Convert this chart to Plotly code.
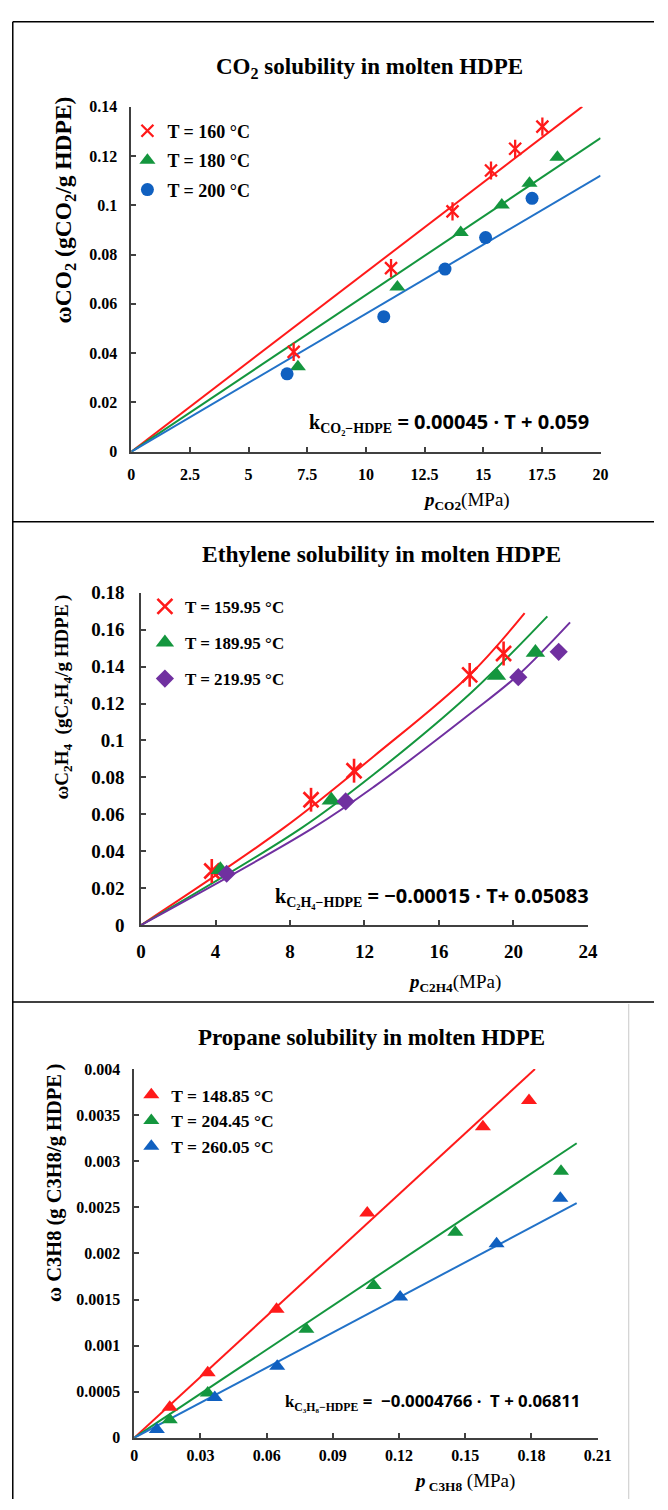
import plotly.graph_objects as go

# ---------------- data ----------------
# CO2 in HDPE: pressure (MPa) and solubility (g/g)
co2_p_160 = [6.92, 11.07, 13.69, 15.33, 16.36, 17.52]
co2_w_160 = [0.0405, 0.0745, 0.0975, 0.1141, 0.1229, 0.1319]
co2_p_180 = [7.10, 11.34, 14.04, 15.79, 16.97, 18.16]
co2_w_180 = [0.0345, 0.0668, 0.0889, 0.1001, 0.1089, 0.1195]
co2_p_200 = [6.64, 10.76, 13.37, 15.10, 17.08]
co2_w_200 = [0.0316, 0.0548, 0.0741, 0.0869, 0.1028]
# model curves
co2_fit_p_160 = [0, 19.22]
co2_fit_w_160 = [0, 0.1400]
co2_fit_p_180 = [0, 20.0]
co2_fit_w_180 = [0, 0.1272]
co2_fit_p_200 = [0, 20.0]
co2_fit_w_200 = [0, 0.1120]

# Ethylene in HDPE
c2h4_p_160 = [3.80, 9.13, 11.44, 17.65, 19.47]
c2h4_w_160 = [0.0293, 0.0679, 0.0836, 0.1355, 0.1471]
c2h4_p_190 = [4.26, 10.22, 19.09, 21.18]
c2h4_w_190 = [0.0300, 0.0676, 0.1352, 0.1476]
c2h4_p_220 = [4.60, 10.99, 20.26, 22.43]
c2h4_w_220 = [0.0278, 0.0670, 0.1343, 0.1480]
c2h4_fit_p_160 = [0, 7.65, 12.52, 17.65, 20.6]
c2h4_fit_w_160 = [0, 0.0525, 0.0916, 0.1355, 0.1690]
c2h4_fit_p_190 = [0, 8.61, 12.52, 17.74, 21.82]
c2h4_fit_w_190 = [0, 0.0525, 0.0818, 0.1260, 0.1672]
c2h4_fit_p_220 = [0, 9.22, 12.52, 17.74, 20.26, 23.04]
c2h4_fit_w_220 = [0, 0.0525, 0.0750, 0.1150, 0.1355, 0.1640]

# Propane in HDPE
c3h8_p_149 = [0.0161, 0.0333, 0.0645, 0.1056, 0.1580, 0.1789]
c3h8_w_149 = [0.000332, 0.000707, 0.001396, 0.002438, 0.003373, 0.003658]
c3h8_p_204 = [0.0161, 0.0333, 0.0780, 0.1085, 0.1455, 0.1934]
c3h8_w_204 = [0.000197, 0.000486, 0.001178, 0.001653, 0.002231, 0.002891]
c3h8_p_260 = [0.01025, 0.0365, 0.0648, 0.1205, 0.1642, 0.1931]
c3h8_w_260 = [0.000090, 0.000439, 0.000778, 0.001528, 0.002106, 0.002599]
c3h8_fit_p_149 = [0, 0.1816]
c3h8_fit_w_149 = [0, 0.0040]
c3h8_fit_p_204 = [0, 0.2005]
c3h8_fit_w_204 = [0, 0.003195]
c3h8_fit_p_260 = [0, 0.2005]
c3h8_fit_w_260 = [0, 0.002545]

# tick labels
co2_xticks = [0, 2.5, 5, 7.5, 10, 12.5, 15, 17.5, 20]
co2_yticks = [0, 0.02, 0.04, 0.06, 0.08, 0.1, 0.12, 0.14]
c2h4_xticks = [0, 4, 8, 12, 16, 20, 24]
c2h4_yticks = [0, 0.02, 0.04, 0.06, 0.08, 0.1, 0.12, 0.14, 0.16, 0.18]
c3h8_xticks = [0, 0.03, 0.06, 0.09, 0.12, 0.15, 0.18, 0.21]
c3h8_yticks = [0, 0.0005, 0.001, 0.0015, 0.002, 0.0025, 0.003, 0.0035, 0.004]

# ---------------- styling ----------------
W, H = 668, 1510
SERIF = "Liberation Serif"
SANS = "Noto Sans"
RED = "#FF1A1A"
GREEN = "#14963E"
BLUE = "#1060C0"
BLUE_LINE = "#2272C8"
PURPLE = "#7030A0"
AXIS = "#404040"


def fx(p):
    return p / W


def fy(p):
    return 1 - p / H


def fmt(v):
    return ("%g" % v)


fig = go.Figure()


def pts(x, y, ax, name, color, symbol, size, legend, group, lw=0, show=True):
    fig.add_trace(go.Scatter(
        x=x, y=y, mode="markers", name=name, xaxis=ax[0], yaxis=ax[1],
        legend=legend, legendgroup=group, showlegend=show,
        marker=dict(symbol=symbol, size=size, color=color,
                    line=dict(color=color, width=lw)),
    ))


def curve(x, y, ax, color, shape="linear"):
    fig.add_trace(go.Scatter(
        x=x, y=y, mode="lines", xaxis=ax[0], yaxis=ax[1], showlegend=False,
        line=dict(color=color, width=2, shape=shape, smoothing=1.0),
        hoverinfo="skip",
    ))


A1, A2, A3 = ("x", "y"), ("x2", "y2"), ("x3", "y3")

# panel 1: CO2
curve(co2_fit_p_160, co2_fit_w_160, A1, RED)
curve(co2_fit_p_180, co2_fit_w_180, A1, GREEN)
curve(co2_fit_p_200, co2_fit_w_200, A1, BLUE_LINE)
pts(co2_p_160, co2_w_160, A1, "T = 160 °C", RED, "x-thin-open", 12, "legend", "a1", 2.3)
pts(co2_p_160, co2_w_160, A1, "", RED, "line-ns-open", 13, "legend", "a1", 2.3, False)
pts(co2_p_180, co2_w_180, A1, "T = 180 °C", GREEN, "triangle-up", 14, "legend", "a2")
pts(co2_p_200, co2_w_200, A1, "T = 200 °C", BLUE, "circle", 13, "legend", "a3")

# panel 2: ethylene
curve(c2h4_fit_p_160, c2h4_fit_w_160, A2, RED, "spline")
curve(c2h4_fit_p_190, c2h4_fit_w_190, A2, GREEN, "spline")
curve(c2h4_fit_p_220, c2h4_fit_w_220, A2, PURPLE, "spline")
pts(c2h4_p_160, c2h4_w_160, A2, "T = 159.95 °C", RED, "x-thin-open", 15, "legend2", "b1", 2.6)
pts(c2h4_p_160, c2h4_w_160, A2, "", RED, "line-ns-open", 17, "legend2", "b1", 2.6, False)
pts(c2h4_p_190, c2h4_w_190, A2, "T = 189.95 °C", GREEN, "triangle-up", 17, "legend2", "b2")
pts(c2h4_p_220, c2h4_w_220, A2, "T = 219.95 °C", PURPLE, "diamond", 14, "legend2", "b3")

# panel 3: propane
curve(c3h8_fit_p_149, c3h8_fit_w_149, A3, RED)
curve(c3h8_fit_p_204, c3h8_fit_w_204, A3, GREEN)
curve(c3h8_fit_p_260, c3h8_fit_w_260, A3, BLUE_LINE)
pts(c3h8_p_149, c3h8_w_149, A3, "T = 148.85 °C", RED, "triangle-up", 14, "legend3", "c1")
pts(c3h8_p_204, c3h8_w_204, A3, "T = 204.45 °C", GREEN, "triangle-up", 14, "legend3", "c2")
pts(c3h8_p_260, c3h8_w_260, A3, "T = 260.05 °C", BLUE, "triangle-up", 14, "legend3", "c3")


def axis_style(dom, rng, ticks, size, anchor, standoff):
    return dict(
        domain=dom, range=rng, anchor=anchor,
        showgrid=False, zeroline=False, showline=True, linecolor=AXIS, linewidth=1.5,
        ticks="inside", ticklen=5, tickwidth=1.5, tickcolor=AXIS,
        tickmode="array", tickvals=ticks, ticktext=[fmt(t) for t in ticks],
        tickfont=dict(family=SERIF, size=size, color="black", weight="bold"),
        ticklabelstandoff=standoff, fixedrange=True,
    )


fig.update_layout(
    xaxis=axis_style([fx(130), fx(613)], [0, 20], co2_xticks, 16, "y", 7),
    yaxis=axis_style([fy(448), fy(98)], [0, 0.14], co2_yticks, 16, "x", 9),
    xaxis2=axis_style([fx(140), fx(600)], [0, 24], c2h4_xticks, 19, "y2", 8),
    yaxis2=axis_style([fy(928), fy(591)], [0, 0.18], c2h4_yticks, 19, "x2", 11),
    xaxis3=axis_style([fx(133), fx(610)], [0, 0.21], c3h8_xticks, 16, "y3", 2),
    yaxis3=axis_style([fy(1448), fy(1074)], [0, 0.004], c3h8_yticks, 16, "x3", 9),
)


def legend_style(x, y, size, gap):
    return dict(x=fx(x), y=fy(y), xanchor="left", yanchor="top",
                bgcolor="rgba(0,0,0,0)", tracegroupgap=gap,
                font=dict(family=SERIF, size=size, color="black", weight="bold"),
                itemsizing="trace", traceorder="grouped")


fig.update_layout(
    legend=legend_style(126, 104, 18, 3),
    legend2=legend_style(144, 587, 17, 11),
    legend3=legend_style(130, 1082, 17.5, 0),
)

annotations = []


def text(x, y, s, size, family=SERIF, xanchor="center", angle=0, yanchor="middle"):
    annotations.append(dict(
        x=fx(x), y=fy(y), xref="paper", yref="paper", text=s, showarrow=False,
        xanchor=xanchor, yanchor=yanchor, textangle=angle,
        font=dict(family=family, size=size, color="black"),
    ))


# titles
text(375, 59, "<b>CO<sub>2</sub> solubility in molten HDPE</b>", 23)
text(388, 552, "<b>Ethylene solubility in molten HDPE</b>", 23.5)
text(377, 1042, "<b>Propane solubility in molten HDPE</b>", 23)

# y axis titles
text(62, 203, "<b>ωCO<sub>2</sub> (gCO<sub>2</sub>/g HDPE)</b>", 23.5, angle=-90)
text(60, 697, "<b>ωC<sub>2</sub>H<sub>4</sub>  (gC<sub>2</sub>H<sub>4</sub>/g HDPE<sub> </sub>)</b>", 19, angle=-90)
text(52, 1190, "<b>ω C3H8 (g C3H8/g HDPE<sub> </sub>)</b>", 20.5, angle=-90)

# x axis titles
text(475, 498, "<b><i>p</i></b><sub><b>CO2</b></sub>(MPa)", 19)
text(463, 987, "<b><i>p</i></b><sub><b>C2H4</b></sub>(MPa)", 19)
text(473, 1493, "<b><i>p</i></b><sub> <b>C3H8</b></sub> (MPa)", 19)

# correlation for the interaction parameter
text(603, 418, "<span style='font-family:Liberation Serif'><b>k<sub>CO₂−HDPE</sub></b></span>"
     "<b> = 0.00045 · T + 0.059</b>", 20, family=SANS, xanchor="right")
text(603, 898, "<span style='font-family:Liberation Serif'><b>k<sub>C₂H₄−HDPE</sub></b></span>"
     "<b> = −0.00015 · T+ 0.05083</b>", 20, family=SANS, xanchor="right")
text(594, 1411, "<span style='font-family:Liberation Serif'><b>k<sub>C₃H₈−HDPE</sub></b></span>"
     "<b> =  −0.0004766 ·  T + 0.06811</b>", 16.8, family=SANS, xanchor="right")

# panel frames
shapes = []


def seg(x0, y0, x1, y1, color="black", width=1.5):
    shapes.append(dict(type="line", xref="paper", yref="paper",
                       x0=fx(x0), y0=fy(y0), x1=fx(x1), y1=fy(y1),
                       line=dict(color=color, width=width)))


seg(8, 12, 668, 12)
seg(8, 12, 8, 1510)
seg(8, 519, 668, 519)
seg(8, 1006, 668, 1006)
seg(642, 1008, 642, 1510, color="#C8C8C8", width=1)

fig.update_layout(
    width=W, height=H, margin=dict(l=0, r=0, t=0, b=0),
    paper_bgcolor="white", plot_bgcolor="white",
    annotations=annotations, shapes=shapes, showlegend=True,
)

fig.write_html("out.html", config={"displayModeBar": False})
